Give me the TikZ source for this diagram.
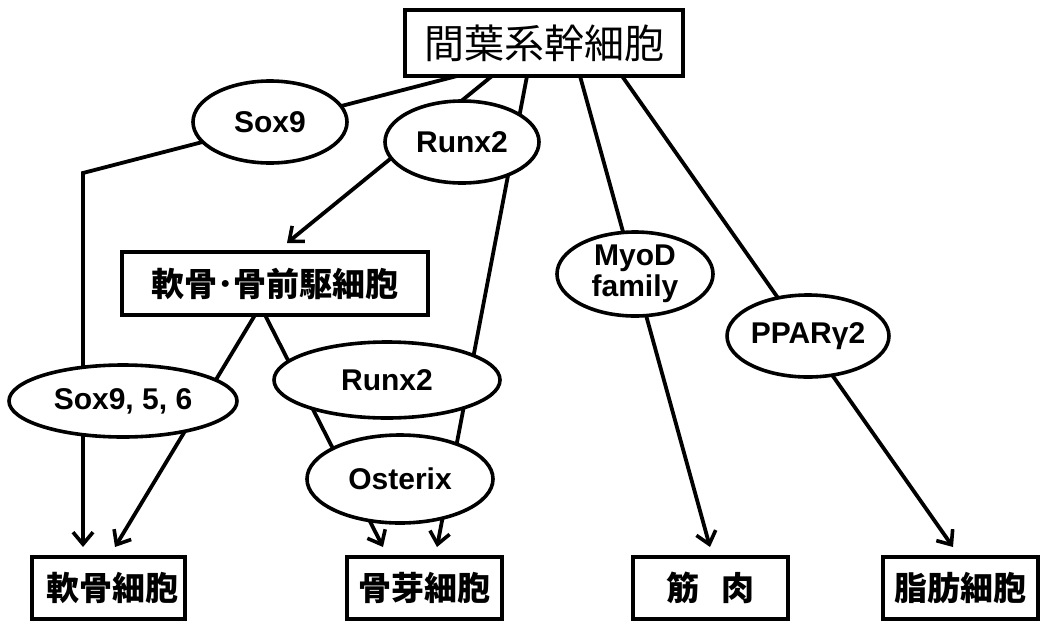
\documentclass[tikz,border=0pt]{standalone}
\usepackage{fontspec}
\setmainfont{Liberation Sans}
\newfontfamily\cjk{Noto Sans CJK JP}
\usetikzlibrary{arrows.meta,shapes.geometric}
\tikzset{
  conn/.style={line width=3.8pt},
  arr/.style={conn,-{Straight Barb[length=12pt,width=20pt,line width=3.6pt]}},
  factor/.style={ellipse,draw,line width=3.6pt,fill=white,inner sep=0pt,
     font=\fontsize{30}{31}\selectfont\bfseries,align=center},
  cellbox/.style={rectangle,draw,line width=3.6pt,fill=white,inner sep=0pt,
     font=\cjk\fontsize{33}{36}\selectfont\bfseries},
}
\begin{document}
\begin{tikzpicture}[x=1pt,y=-1pt]
\useasboundingbox[fill=white] (0,0) rectangle (1040,621);
% boxes
\node[cellbox,font=\cjk\fontsize{40}{44}\selectfont,minimum width=278pt,minimum height=66pt] (msc) at (544,43) {間葉系幹細胞};
\node[cellbox,minimum width=306pt,minimum height=63pt] (pre) at (275,283.5) {軟骨･骨前駆細胞};
\node[cellbox,minimum width=153pt,minimum height=62pt] (chon) at (108.5,588) {\hspace{8pt}軟骨細胞};
\node[cellbox,minimum width=155pt,minimum height=62pt] (osteo) at (424.5,588) {骨芽細胞};
\node[cellbox,minimum width=155pt,minimum height=62pt] (muscle) at (710.5,588) {筋\hspace{22pt}肉};
\node[cellbox,minimum width=155pt,minimum height=62pt] (adipo) at (960.5,588) {脂肪細胞};
% connector end points
\coordinate (m1) at (457,76);
\coordinate (m2) at (492,76);
\coordinate (m3) at (527,76);
\coordinate (m4) at (580,76);
\coordinate (m5) at (622,76);
\coordinate (bend) at (83,173);
\coordinate (c1) at (83,547);
\coordinate (c2) at (115,547);
\coordinate (o1) at (383,547);
\coordinate (o2) at (437,547);
\coordinate (mu) at (710,547);
\coordinate (ad) at (953,547);
\coordinate (pr) at (287,243);
\coordinate (p1) at (255,315);
\coordinate (p2) at (265,315);
% connectors (drawn behind the factor ellipses)
\draw[arr] (m1) -- (bend) -- (c1);
\draw[arr] (m2) -- (pr);
\draw[arr] (m3) -- (o2);
\draw[arr] (m4) -- (mu);
\draw[arr] (m5) -- (ad);
\draw[arr] (p1) -- (c2);
\draw[arr] (p2) -- (o1);
% factors
\node[factor,minimum width=154pt,minimum height=82pt] (sox9) at (270,122) {Sox9};
\node[factor,minimum width=154pt,minimum height=82pt] (runxa) at (462,142) {Runx2};
\node[factor,minimum width=156pt,minimum height=84pt] (myod) at (635,274) {MyoD\\family};
\node[factor,minimum width=156pt,minimum height=82pt] (ppar) at (808,336) {PPARγ2};
\node[factor,minimum width=228pt,minimum height=72pt] (sox956) at (123,401) {Sox9, 5, 6};
\node[factor,minimum width=226pt,minimum height=76pt] (runxb) at (387,380) {Runx2};
\node[factor,minimum width=186pt,minimum height=88pt] (osx) at (400,479) {Osterix};
\end{tikzpicture}
\end{document}
